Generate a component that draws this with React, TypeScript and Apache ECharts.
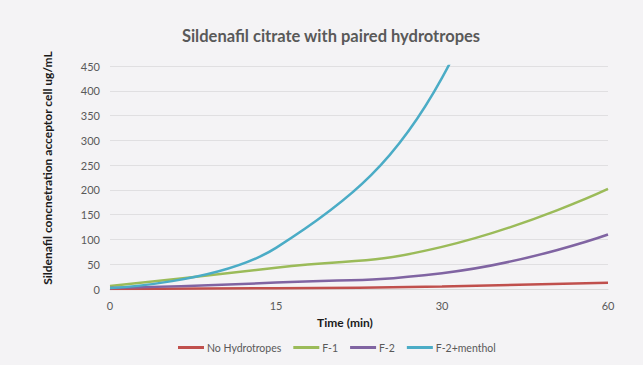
import React, { useEffect, useRef } from "react";
import * as echarts from "echarts";

const categories = ["0", "15", "30", "60"];
const noHydrotropes = [0, 1.5, 5, 12.5];
const f1 = [6, 43, 85, 202];
const f2 = [2, 13, 32, 110];
const f2Menthol = [2, 83, 426, 1300];

const FONT = "Lato, 'Open Sans', sans-serif";

export default function App() {
  const ref = useRef<HTMLDivElement>(null);
  useEffect(() => {
    if (!ref.current) return;
    const chart = echarts.init(ref.current, undefined, { renderer: "svg" });
    const mk = (name: string, data: number[], color: string, smooth: number) => ({
      name,
      type: "line",
      data,
      smooth,
      symbol: "none",
      lineStyle: { color, width: 2.5 },
      itemStyle: { color },
      clip: true,
    });
    chart.setOption({
      animation: false,
      backgroundColor: "#f4f3f5",
      textStyle: { fontFamily: FONT },
      title: {
        text: "Sildenafil citrate with paired hydrotropes",
        left: 326,
        top: 22,
        textAlign: "center",
        textStyle: { fontFamily: FONT, fontSize: 16.5, fontWeight: "bold", color: "#595959" },
      },
      grid: { left: 110, right: 35, top: 66, bottom: 76 },
      legend: {
        top: 337,
        left: 173,
        itemWidth: 26,
        itemHeight: 3,
        itemGap: 12,
        icon: "rect",
        textStyle: { fontFamily: FONT, fontSize: 10.5, color: "#595959", padding: [0, 0, 0, -2] },
        data: ["No Hydrotropes", "F-1", "F-2", "F-2+menthol"],
      },
      xAxis: {
        type: "category",
        data: categories,
        boundaryGap: false,
        axisTick: { show: false },
        axisLine: { lineStyle: { color: "#d9d9d9" } },
        axisLabel: { color: "#595959", fontSize: 11, margin: 11, fontFamily: FONT },
      },
      yAxis: {
        type: "value",
        min: 0,
        max: 450,
        interval: 50,
        axisLine: { show: false },
        axisTick: { show: false },
        axisLabel: { color: "#595959", fontSize: 11, margin: 10, fontFamily: FONT },
        splitLine: { lineStyle: { color: "#e0dfe1" } },
      },
      graphic: [
        {
          type: "text",
          x: 345,
          y: 322,
          style: {
            text: "Time (min)",
            fontFamily: FONT,
            fontSize: 12,
            fontWeight: "bold",
            fill: "#1a1a1a",
            textAlign: "center",
            textVerticalAlign: "middle",
          },
        },
        {
          type: "text",
          x: 47,
          y: 168,
          rotation: Math.PI / 2,
          style: {
            text: "Sildenafil concnetration acceptor cell ug/mL",
            fontFamily: FONT,
            fontSize: 12,
            fontWeight: "bold",
            fill: "#1a1a1a",
            textAlign: "center",
            textVerticalAlign: "middle",
          },
        },
      ],
      series: [
        mk("No Hydrotropes", noHydrotropes, "#c0504d", 0.5),
        mk("F-1", f1, "#9bbb59", 0.5),
        mk("F-2", f2, "#8064a2", 0.5),
        mk("F-2+menthol", f2Menthol, "#4bacc6", 0.4),
      ],
    });
    return () => chart.dispose();
  }, []);
  return (
    <div
      ref={ref}
      style={{ position: "fixed", left: 0, top: 0, width: 643, height: 365 }}
    />
  );
}
